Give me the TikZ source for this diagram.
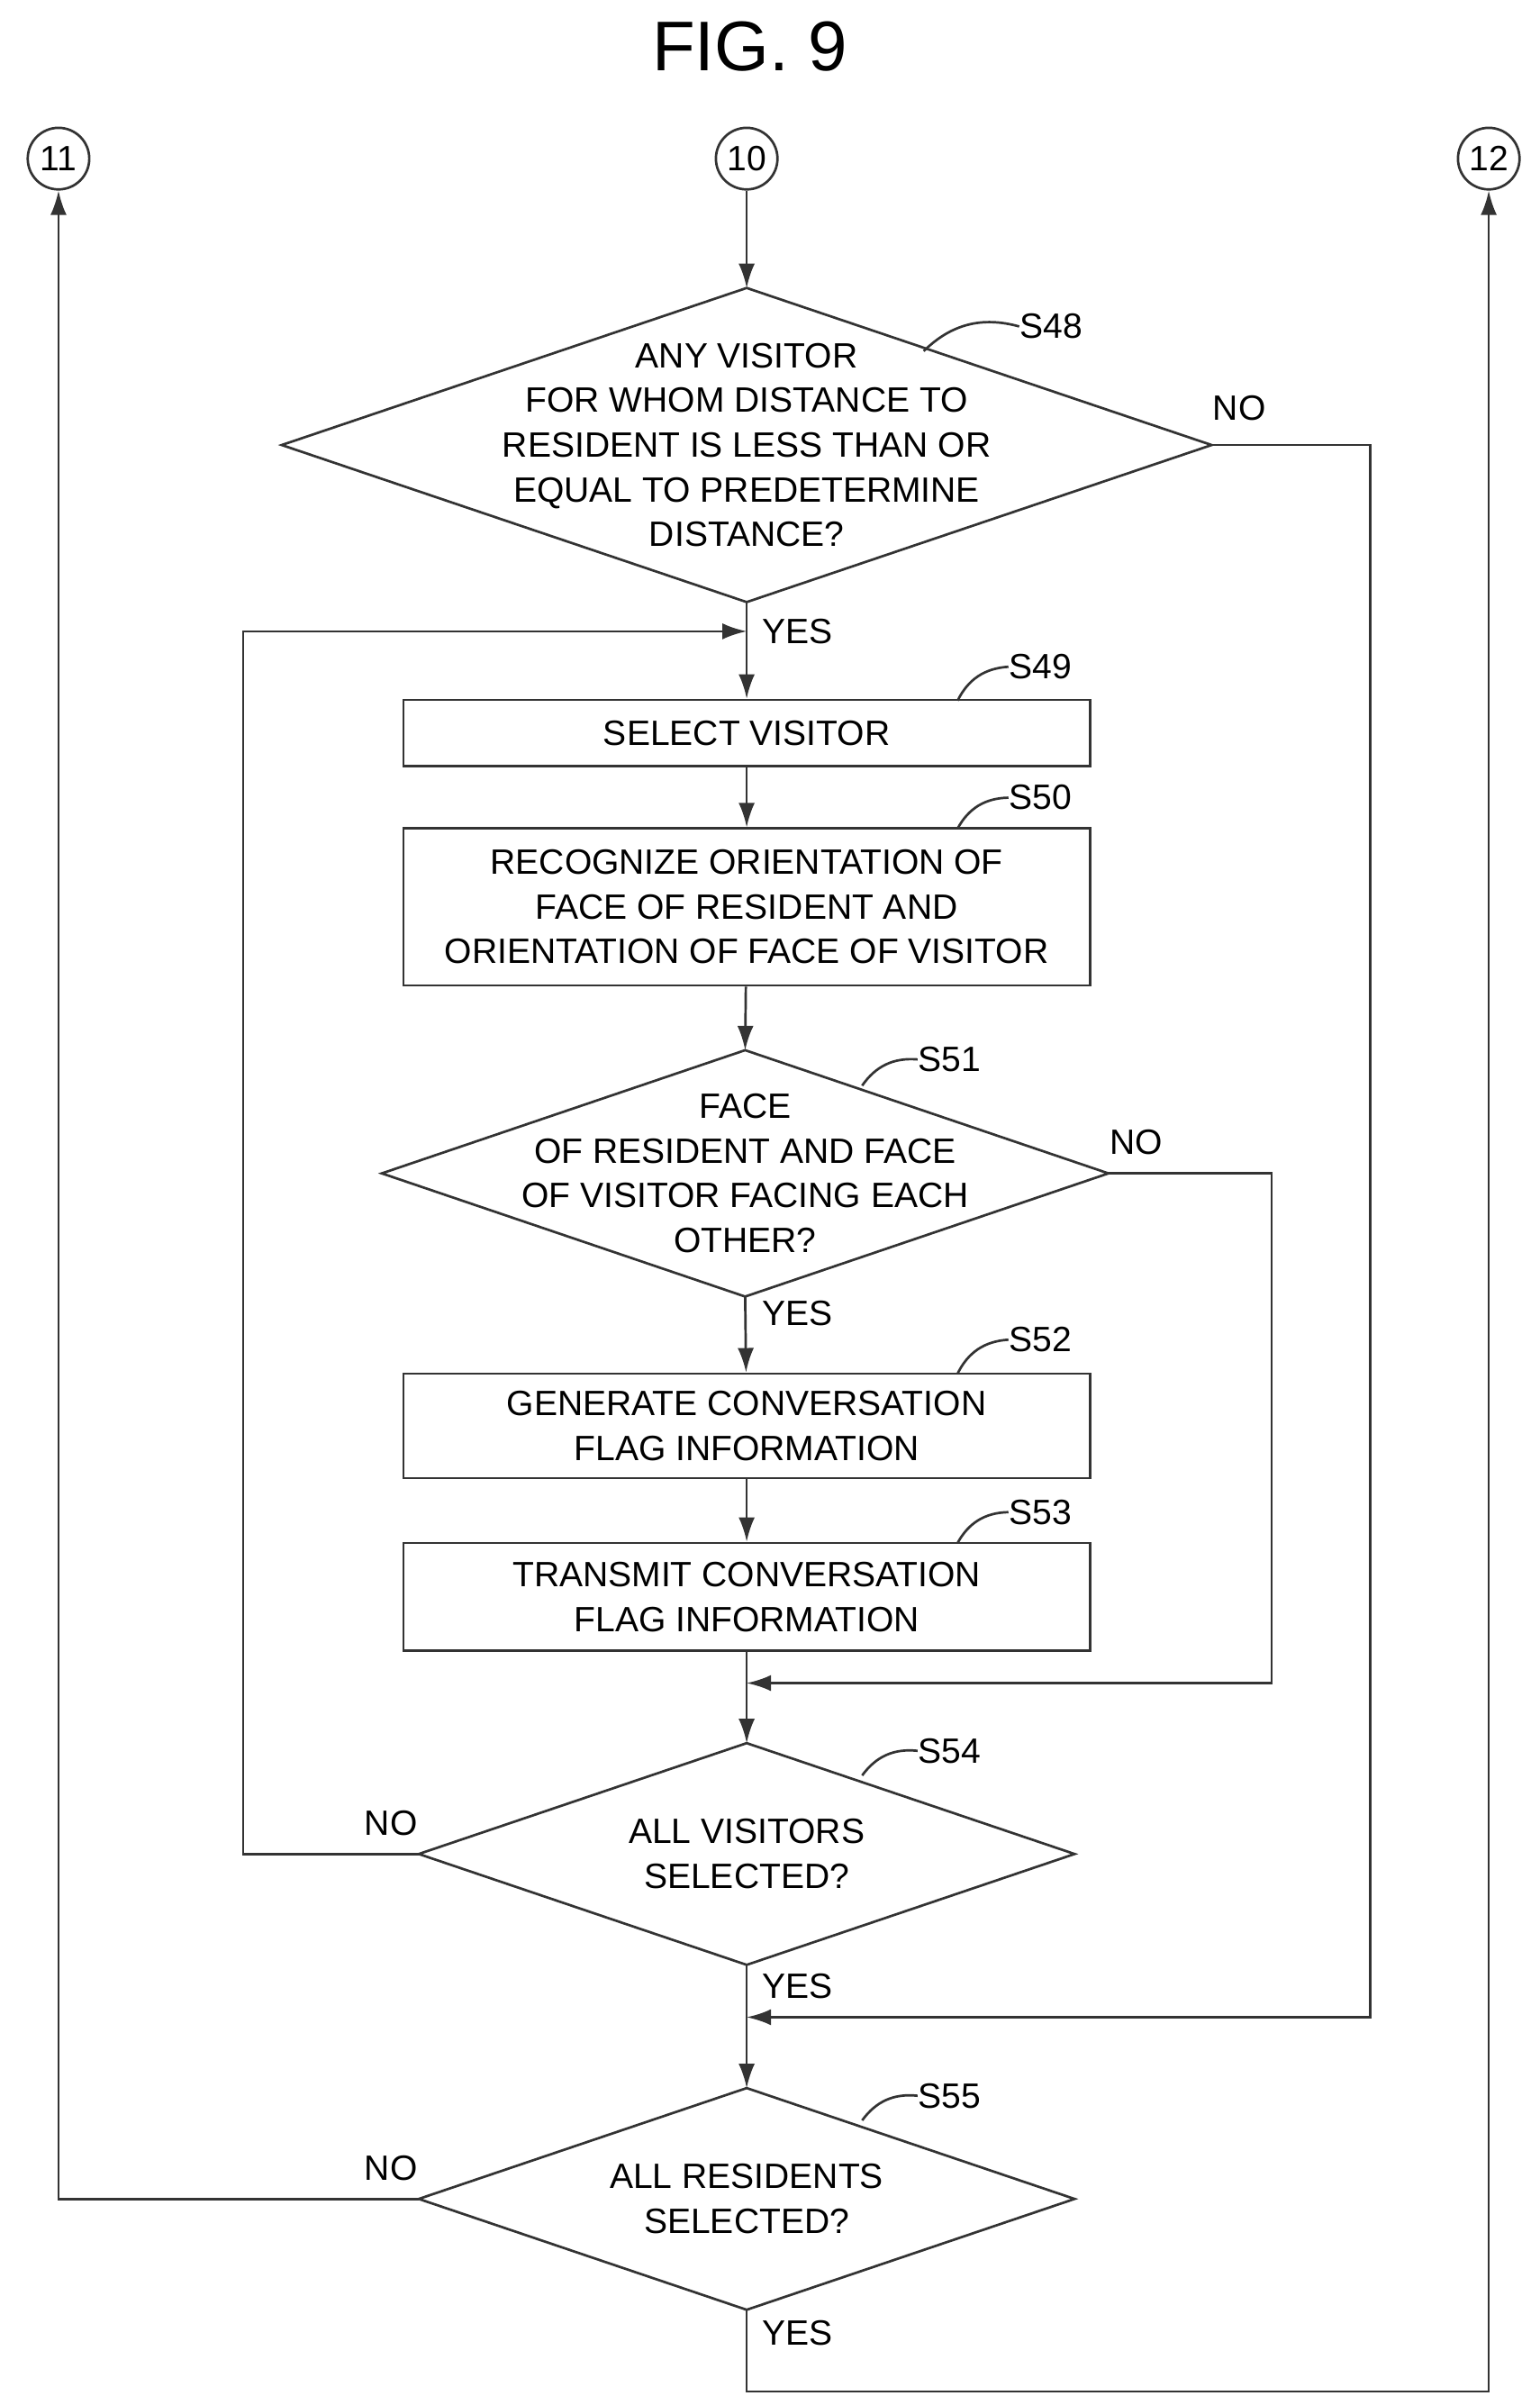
\documentclass[tikz,border=0pt]{standalone}
\usepackage{fontspec}
\setmainfont{Liberation Sans}
\usetikzlibrary{arrows.meta}

\newcommand{\diam}[6]{%
    \coordinate (#1t) at (#2, #3-#5);
    \coordinate (#1b) at (#2, #3+#5);
    \coordinate (#1l) at (#2-#4, #3);
    \coordinate (#1r) at (#2+#4, #3);
    \draw [flow] (#1t) -- (#1r) -- (#1b) -- (#1l) -- cycle;
    \node [txt] (#1) at (#2, #3) {#6};
}

\begin{document}
\begin{tikzpicture}[x=0.02cm, y=-0.02cm]

    \tikzset{%
        flow/.style={line width=0.9pt, draw=black!80},
        arr/.style={flow, -{Latex[length=9pt, width=6pt]}},
        txt/.style={font=\fontsize{13}{16.5}\selectfont, align=center, inner sep=0pt},
        box/.style={flow, txt, minimum width=8.92cm, inner sep=0pt},
        conn/.style={flow, circle, minimum size=0.8cm, inner sep=0pt, font=\fontsize{13}{15}\selectfont},
        stepno/.style={txt},
        lbl/.style={txt}
    }

    \useasboundingbox (0, 0) rectangle (1000, 1556);

    \node [font=\fontsize{26}{30}\selectfont] (title) at (487, 30) {FIG. 9};

    % connectors
    \node [conn] (c11) at (38, 103) {11};
    \node [conn] (c10) at (485, 103) {10};
    \node [conn] (c12) at (967, 103) {12};

    % steps
    \diam{s48}{485}{289}{302}{102}{ANY VISITOR\\FOR WHOM DISTANCE TO\\RESIDENT IS LESS THAN OR\\EQUAL TO PREDETERMINE\\DISTANCE?}
    \node [box, minimum height=0.86cm] (s49) at (485, 476) {SELECT VISITOR};
    \node [box, minimum height=2.04cm] (s50) at (485, 589) {RECOGNIZE ORIENTATION OF\\FACE OF RESIDENT AND\\ORIENTATION OF FACE OF VISITOR};
    \diam{s51}{484}{762}{236}{80}{FACE\\OF RESIDENT AND FACE\\OF VISITOR FACING EACH\\OTHER?}
    \node [box, minimum height=1.36cm] (s52) at (485, 926) {GENERATE CONVERSATION\\FLAG INFORMATION};
    \node [box, minimum height=1.4cm] (s53) at (485, 1037) {TRANSMIT CONVERSATION\\FLAG INFORMATION};
    \diam{s54}{485}{1204}{213}{72}{ALL VISITORS\\SELECTED?}
    \diam{s55}{485}{1428}{213}{72}{ALL RESIDENTS\\SELECTED?}

    % step numbers
    \node [stepno, anchor=west] (n48) at (662, 212) {S48};
    \node [stepno, anchor=west] (n49) at (655, 433) {S49};
    \node [stepno, anchor=west] (n50) at (655, 518) {S50};
    \node [stepno, anchor=west] (n51) at (596, 688) {S51};
    \node [stepno, anchor=west] (n52) at (655, 870) {S52};
    \node [stepno, anchor=west] (n53) at (655, 982) {S53};
    \node [stepno, anchor=west] (n54) at (596, 1137) {S54};
    \node [stepno, anchor=west] (n55) at (596, 1361) {S55};
    \draw [flow] (600, 228) to [bend left=30] (n48.west);
    \draw [flow] (622, 455) to [bend left=30] (n49.west);
    \draw [flow] (622, 538) to [bend left=30] (n50.west);
    \draw [flow] (560, 705) to [bend left=30] (n51.west);
    \draw [flow] (622, 892) to [bend left=30] (n52.west);
    \draw [flow] (622, 1002) to [bend left=30] (n53.west);
    \draw [flow] (560, 1153) to [bend left=30] (n54.west);
    \draw [flow] (560, 1377) to [bend left=30] (n55.west);

    % junctions
    \coordinate (j1) at (485, 410);
    \coordinate (j2) at (485, 1093);
    \coordinate (j3) at (485, 1310);
    \coordinate (e1) at (485, 1553);

    % flow lines
    \draw [arr] (c10) -- (s48t);
    \draw [arr] (s48b) -- (s49);
    \draw [arr] (s49) -- (s50);
    \draw [arr] (s50) -- (s51t);
    \draw [arr] (s51b) -- (s52);
    \draw [arr] (s52) -- (s53);
    \draw [arr] (s53) -- (s54t);
    \draw [arr] (s54b) -- (s55t);
    \draw [arr] (s51r) -| (826, 1093) -- (j2);
    \draw [arr] (s54l) -| (158, 410) -- (j1);
    \draw [arr] (s48r) -| (890, 1310) -- (j3);
    \draw [arr] (s55l) -| (c11);
    \draw [arr] (s55b) -- (e1) -| (c12);

    % branch labels
    \node [lbl, anchor=west] (y48) at (495, 410) {YES};
    \node [lbl] (no48) at (805, 265) {NO};
    \node [lbl] (no51) at (738, 742) {NO};
    \node [lbl, anchor=west] (y51) at (495, 853) {YES};
    \node [lbl] (no54) at (254, 1184) {NO};
    \node [lbl, anchor=west] (y54) at (495, 1290) {YES};
    \node [lbl] (no55) at (254, 1408) {NO};
    \node [lbl, anchor=west] (y55) at (495, 1515) {YES};

\end{tikzpicture}
\end{document}
